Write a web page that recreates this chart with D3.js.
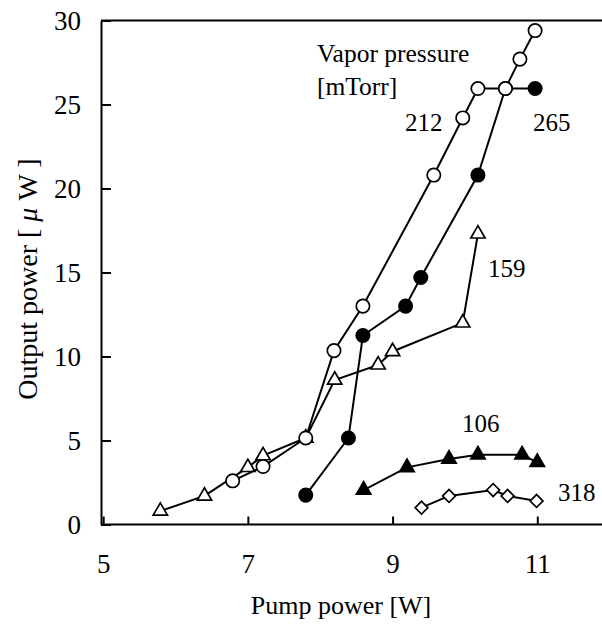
<!DOCTYPE html>
<html>
<head>
<meta charset="utf-8">
<script src="https://cdn.jsdelivr.net/npm/d3@7"></script>
<style>
  body { margin: 0; background: #fff; }
  .axis path, .axis line { stroke: #000; stroke-width: 2; }
  text { fill: #000; }
</style>
</head>
<body>
<div id="chart"></div>
<script>
// x: pump power [W], y: output power [uW], one pair of arrays per vapor pressure
let xTicks = [5, 7, 9, 11];
let yTicks = [0, 5, 10, 15, 20, 25, 30];

let x106 = [8.60, 9.20, 9.78, 10.18, 10.79, 11.00];
let y106 = [2.05, 3.40, 3.90, 4.15, 4.15, 3.70];

let x318 = [9.40, 9.78, 10.39, 10.59, 10.99];
let y318 = [1.00, 1.70, 2.05, 1.70, 1.40];

let x159 = [5.79, 6.40, 7.00, 7.21, 7.80, 8.20, 8.80, 9.00, 9.97, 10.18];
let y159 = [0.80, 1.70, 3.40, 4.10, 5.15, 8.60, 9.50, 10.30, 12.00, 17.30];

let x265 = [7.80, 8.39, 8.59, 9.18, 9.39, 10.18, 10.56, 10.97];
let y265 = [1.75, 5.15, 11.25, 13.00, 14.70, 20.80, 25.95, 25.95];

let x212 = [6.79, 7.21, 7.80, 8.19, 8.59, 9.57, 9.97, 10.18, 10.56, 10.76, 10.97];
let y212 = [2.60, 3.45, 5.15, 10.35, 13.00, 20.80, 24.20, 25.95, 25.95, 27.70, 29.40];

let svgWidth = 602;
let svgHeight = 625;
let serif = 'Liberation Serif';

let svg = d3.select('#chart').append('svg')
    .attr('width', svgWidth)
    .attr('height', svgHeight)
    .attr('font-family', serif);

// scales (plot is cut off on the right, so the range runs past the svg edge)
let x = d3.scaleLinear().domain([4.97, 12.1]).range([101, 101 + 7.13 * 72.35]);
let y = d3.scaleLinear().domain([0, 30]).range([524.5, 20.5]);

// top border line
svg.append('line')
    .attr('x1', x(4.97)).attr('x2', svgWidth)
    .attr('y1', y(30)).attr('y2', y(30))
    .attr('stroke', '#000').attr('stroke-width', 2);

// axes with inward ticks
let bottomAxis = d3.axisBottom(x).tickValues(xTicks).tickFormat(d3.format('d'))
    .tickSizeInner(-8).tickSizeOuter(0).tickPadding(29);
let xAxis = svg.append('g').attr('class', 'axis')
    .attr('transform', `translate(0, ${y(0)})`)
    .call(bottomAxis)
    .attr('font-family', serif)
    .attr('font-size', 27);
xAxis.select('.domain').attr('d', `M${x(4.97)},0H${svgWidth}`);

let leftAxis = d3.axisLeft(y).tickValues(yTicks).tickFormat(d3.format('d'))
    .tickSizeInner(-10).tickSizeOuter(0).tickPadding(20);
svg.append('g').attr('class', 'axis')
    .attr('transform', `translate(${x(4.97)}, 0)`)
    .call(leftAxis)
    .attr('font-family', serif)
    .attr('font-size', 27);

// axis titles
svg.append('text')
    .attr('x', 341).attr('y', 614)
    .attr('text-anchor', 'middle')
    .attr('font-size', '26px')
    .text('Pump power [W]');

let yTitle = svg.append('text')
    .attr('transform', 'translate(37, 279) rotate(-90)')
    .attr('text-anchor', 'middle')
    .attr('font-size', '28px');
yTitle.append('tspan').text('Output power [ ');
yTitle.append('tspan').attr('font-style', 'italic').text('\u03bc');
yTitle.append('tspan').text(' W ]');

let line = d3.line().x(d => x(d[0])).y(d => y(d[1]));

function drawSeries(xs, ys, shape, filled, size, rotate) {
    let pts = xs.map((v, i) => [v, ys[i]]);
    svg.append('path')
        .datum(pts)
        .attr('d', line)
        .attr('fill', 'none')
        .attr('stroke', '#000')
        .attr('stroke-width', 2);
    svg.append('g').selectAll('path')
        .data(pts)
        .enter()
        .append('path')
        .attr('d', d3.symbol(shape, size))
        .attr('transform', d => `translate(${x(d[0])}, ${y(d[1])}) rotate(${rotate})`)
        .attr('fill', filled ? '#000' : '#fff')
        .attr('stroke', '#000')
        .attr('stroke-width', 1.7);
}

drawSeries(x106, y106, d3.symbolTriangle, true, 90, 0);
drawSeries(x318, y318, d3.symbolSquare, false, 82, 45);
drawSeries(x159, y159, d3.symbolTriangle, false, 88, 0);
drawSeries(x265, y265, d3.symbolCircle, true, 140, 0);
drawSeries(x212, y212, d3.symbolCircle, false, 140, 0);

// series labels
let labels = [
    { t: '212', x: 405, y: 131 },
    { t: '265', x: 533, y: 131 },
    { t: '159', x: 488, y: 277 },
    { t: '106', x: 462, y: 432 },
    { t: '318', x: 558, y: 501 }
];
svg.selectAll('.slabel')
    .data(labels)
    .enter()
    .append('text')
    .attr('class', 'slabel')
    .attr('x', d => d.x).attr('y', d => d.y)
    .attr('font-size', '25px')
    .text(d => d.t);

svg.append('text').attr('x', 317).attr('y', 62).attr('font-size', '25.5px').text('Vapor pressure');
svg.append('text').attr('x', 317).attr('y', 95).attr('font-size', '25.5px').text('[mTorr]');
</script>
</body>
</html>
